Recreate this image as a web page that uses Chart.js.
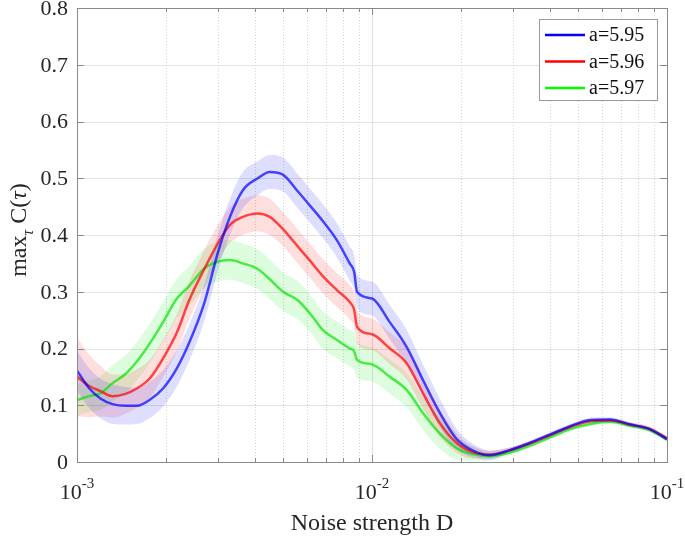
<!DOCTYPE html>
<html lang="en">
<head>
<meta charset="UTF-8">
<title>max C(tau) vs noise strength</title>
<script src="https://cdn.jsdelivr.net/npm/chart.js"></script>
<style>
  html, body { margin: 0; padding: 0; background: #fff; }
</style>
</head>
<body>
<canvas id="chart" width="685" height="536"></canvas>
<script>
// noise strength D (log axis)
var noise = [0.001, 0.0011, 0.0012, 0.00132, 0.00146, 0.0016, 0.00177, 0.00196, 0.00218, 0.0024,
             0.0027, 0.003, 0.0033, 0.00365, 0.0041, 0.0045, 0.005, 0.0056, 0.0062, 0.0068,
             0.0076, 0.0084, 0.0087, 0.0089, 0.01, 0.0115, 0.0131, 0.0149, 0.017, 0.0194,
             0.022, 0.025, 0.029, 0.034, 0.04, 0.047, 0.055, 0.064, 0.075, 0.0875, 0.1];

// mean of max_tau C(tau)
var mean595 = [0.161, 0.13, 0.112, 0.102, 0.099, 0.099, 0.11, 0.13, 0.165, 0.21,
               0.28, 0.368, 0.432, 0.479, 0.5, 0.511, 0.506, 0.477, 0.45, 0.425,
               0.391, 0.35, 0.335, 0.3, 0.288, 0.246, 0.203, 0.144, 0.086, 0.04,
               0.02, 0.012, 0.02, 0.033, 0.048, 0.063, 0.074, 0.075, 0.066, 0.058, 0.04];
var mean596 = [0.15, 0.134, 0.125, 0.116, 0.12, 0.13, 0.148, 0.183, 0.228, 0.285,
               0.34, 0.385, 0.418, 0.432, 0.438, 0.432, 0.41, 0.38, 0.353, 0.328,
               0.303, 0.282, 0.268, 0.238, 0.225, 0.2, 0.174, 0.121, 0.068, 0.033,
               0.017, 0.013, 0.02, 0.032, 0.047, 0.062, 0.072, 0.073, 0.066, 0.058, 0.042];
var mean597 = [0.109, 0.116, 0.121, 0.139, 0.155, 0.178, 0.21, 0.247, 0.288, 0.31,
               0.341, 0.353, 0.356, 0.35, 0.34, 0.322, 0.3, 0.285, 0.26, 0.233,
               0.215, 0.2, 0.195, 0.18, 0.172, 0.15, 0.127, 0.086, 0.05, 0.024,
               0.014, 0.01, 0.016, 0.028, 0.043, 0.058, 0.067, 0.071, 0.064, 0.056, 0.04];

// half width of the shaded band
var spread595 = [0.035, 0.035, 0.035, 0.035, 0.033, 0.032, 0.032, 0.032, 0.032, 0.032,
                 0.032, 0.032, 0.032, 0.032, 0.03, 0.03, 0.03, 0.03, 0.03, 0.03,
                 0.03, 0.03, 0.03, 0.03, 0.03, 0.03, 0.03, 0.028, 0.025, 0.018,
                 0.012, 0.008, 0.005, 0.004, 0.004, 0.004, 0.004, 0.004, 0.004, 0.004, 0.004];
var spread596 = [0.07, 0.055, 0.045, 0.038, 0.035, 0.034, 0.033, 0.033, 0.033, 0.033,
                 0.033, 0.033, 0.032, 0.032, 0.032, 0.032, 0.03, 0.03, 0.03, 0.03,
                 0.03, 0.03, 0.03, 0.03, 0.028, 0.028, 0.028, 0.027, 0.024, 0.017,
                 0.011, 0.007, 0.005, 0.004, 0.004, 0.004, 0.004, 0.004, 0.004, 0.004, 0.004];
var spread597 = [0.028, 0.028, 0.03, 0.032, 0.033, 0.034, 0.035, 0.035, 0.035, 0.035,
                 0.035, 0.035, 0.035, 0.035, 0.035, 0.035, 0.034, 0.034, 0.033, 0.033,
                 0.032, 0.032, 0.032, 0.032, 0.03, 0.03, 0.03, 0.03, 0.027, 0.02,
                 0.012, 0.008, 0.005, 0.004, 0.004, 0.004, 0.004, 0.004, 0.004, 0.004, 0.004];

var labels = ['a=5.95', 'a=5.96', 'a=5.97'];
var yTicks = [0, 0.1, 0.2, 0.3, 0.4, 0.5, 0.6, 0.7, 0.8];
var xDecades = [-3, -2, -1];

var serif = '"Liberation Serif", "Times New Roman", serif';

var series = [
    { label: labels[0], mean: mean595, spread: spread595, rgb: '0,0,255' },
    { label: labels[1], mean: mean596, spread: spread596, rgb: '255,0,0' },
    { label: labels[2], mean: mean597, spread: spread597, rgb: '0,230,0' }
];

function pts(values, spread, sign) {
    return values.map(function (v, i) {
        return { x: noise[i], y: v + sign * (spread ? spread[i] : 0) };
    });
}

var datasets = [];
series.forEach(function (s) {
    datasets.push({ data: pts(s.mean, s.spread, -1), borderWidth: 0, pointRadius: 0, fill: false, order: 2,
                    cubicInterpolationMode: 'monotone' });
    datasets.push({ data: pts(s.mean, s.spread, 1), borderWidth: 0, pointRadius: 0, order: 2,
                    cubicInterpolationMode: 'monotone',
                    fill: '-1', backgroundColor: 'rgba(' + s.rgb + ',0.13)' });
    datasets.push({ label: s.label, data: pts(s.mean, null, 0), borderColor: 'rgba(' + s.rgb + ',0.7)',
                    borderWidth: 2.5, pointRadius: 0, fill: false, cubicInterpolationMode: 'monotone', order: 0 });
});

// draws the matlab style box, grid, ticks, labels and legend
var matlabAxes = {
    id: 'matlabAxes',
    beforeDatasetsDraw: function (chart) {
        var ctx = chart.ctx, a = chart.chartArea, xs = chart.scales.x, ys = chart.scales.y;
        ctx.save();
        ctx.lineWidth = 1;
        ctx.strokeStyle = '#e4e4e4';
        yTicks.forEach(function (t) {
            var py = Math.round(ys.getPixelForValue(t)) + 0.5;
            ctx.beginPath(); ctx.moveTo(a.left, py); ctx.lineTo(a.right, py); ctx.stroke();
        });
        xDecades.forEach(function (d) {
            for (var m = 1; m <= 9; m++) {
                var v = m * Math.pow(10, d);
                if (v > 0.1 + 1e-9) break;
                var px = Math.round(xs.getPixelForValue(v)) + 0.5;
                if (m === 1) { ctx.setLineDash([]); ctx.strokeStyle = '#e0e0e0'; }
                else { ctx.setLineDash([1, 2]); ctx.strokeStyle = '#d4d4d4'; }
                ctx.beginPath(); ctx.moveTo(px, a.top); ctx.lineTo(px, a.bottom); ctx.stroke();
            }
        });
        ctx.restore();
    },
    afterDatasetsDraw: function (chart) {
        var ctx = chart.ctx, a = chart.chartArea, xs = chart.scales.x, ys = chart.scales.y;
        ctx.save();
        ctx.strokeStyle = '#8a8a8a';
        ctx.lineWidth = 1;
        ctx.strokeRect(Math.round(a.left) + 0.5, Math.round(a.top) + 0.5,
                       Math.round(a.right - a.left), Math.round(a.bottom - a.top));
        // x ticks, inward, bottom and top
        xDecades.forEach(function (d) {
            for (var m = 1; m <= 9; m++) {
                var v = m * Math.pow(10, d);
                if (v > 0.1 + 1e-9) break;
                var px = Math.round(xs.getPixelForValue(v)) + 0.5;
                var len = m === 1 ? 7 : 4;
                ctx.beginPath();
                ctx.moveTo(px, a.bottom); ctx.lineTo(px, a.bottom - len);
                ctx.moveTo(px, a.top); ctx.lineTo(px, a.top + len);
                ctx.stroke();
            }
        });
        // y ticks, inward, left and right
        yTicks.forEach(function (t) {
            var py = Math.round(ys.getPixelForValue(t)) + 0.5;
            ctx.beginPath();
            ctx.moveTo(a.left, py); ctx.lineTo(a.left + 7, py);
            ctx.moveTo(a.right, py); ctx.lineTo(a.right - 7, py);
            ctx.stroke();
        });

        ctx.fillStyle = '#262626';
        // y tick labels
        ctx.font = '22px ' + serif;
        ctx.textAlign = 'right';
        ctx.textBaseline = 'middle';
        yTicks.forEach(function (t) {
            ctx.fillText(String(t), a.left - 9, ys.getPixelForValue(t) + 1);
        });
        // x tick labels 10^n
        ctx.textAlign = 'left';
        ctx.textBaseline = 'alphabetic';
        xDecades.forEach(function (d) {
            var px = xs.getPixelForValue(Math.pow(10, d));
            ctx.font = '22px ' + serif;
            var w1 = ctx.measureText('10').width;
            ctx.font = '15px ' + serif;
            var w2 = ctx.measureText('-' + Math.abs(d)).width;
            var x0 = px - (w1 + w2) / 2;
            ctx.font = '22px ' + serif;
            ctx.fillText('10', x0, a.bottom + 37);
            ctx.font = '15px ' + serif;
            ctx.fillText('-' + Math.abs(d), x0 + w1, a.bottom + 26);
        });
        // x title
        ctx.font = '24px ' + serif;
        ctx.textAlign = 'center';
        ctx.fillText('Noise strength D', (a.left + a.right) / 2, 530);

        // y title: max_tau C(tau)
        ctx.translate(26, 230);
        ctx.rotate(-Math.PI / 2);
        ctx.textAlign = 'left';
        var big = '24px ' + serif, small = 'italic 16px ' + serif, tau = 'italic 24px ' + serif;
        ctx.font = big; var wMax = ctx.measureText('max').width;
        ctx.font = small; var wSub = ctx.measureText('\u03c4').width;
        ctx.font = big; var wC = ctx.measureText(' C(').width, wP = ctx.measureText(')').width;
        ctx.font = tau; var wT = ctx.measureText('\u03c4').width;
        var x = -(wMax + wSub + wC + wT + wP) / 2;
        ctx.font = big; ctx.fillText('max', x, 0); x += wMax;
        ctx.font = small; ctx.fillText('\u03c4', x, 7); x += wSub;
        ctx.font = big; ctx.fillText(' C(', x, 0); x += wC;
        ctx.font = tau; ctx.fillText('\u03c4', x, 0); x += wT;
        ctx.font = big; ctx.fillText(')', x, 0);
        ctx.restore();
    },
    afterDraw: function (chart) {
        var ctx = chart.ctx;
        ctx.save();
        var bx = 539.5, by = 19.5, bw = 118, bh = 81;
        ctx.fillStyle = '#fff';
        ctx.fillRect(bx, by, bw, bh);
        ctx.strokeStyle = '#9a9a9a';
        ctx.lineWidth = 1;
        ctx.strokeRect(bx, by, bw, bh);
        ctx.font = '20px ' + serif;
        ctx.textBaseline = 'middle';
        ctx.textAlign = 'left';
        series.forEach(function (s, i) {
            var cy = 35 + i * 26.5;
            ctx.strokeStyle = 'rgb(' + (i === 2 ? '0,255,0' : s.rgb) + ')';
            ctx.lineWidth = 2.5;
            ctx.beginPath(); ctx.moveTo(545, cy); ctx.lineTo(585, cy); ctx.stroke();
            ctx.fillStyle = '#111';
            ctx.fillText(s.label, 589, cy + 1);
        });
        ctx.restore();
    }
};

var chart = new Chart(document.getElementById('chart'), {
    type: 'line',
    data: { datasets: datasets },
    options: {
        responsive: false,
        animation: false,
        devicePixelRatio: 1,
        layout: { padding: { left: 77, right: 18, top: 8, bottom: 74 } },
        scales: {
            x: { type: 'logarithmic', min: 0.001, max: 0.1, display: false },
            y: { type: 'linear', min: 0, max: 0.8, display: false }
        },
        plugins: {
            legend: { display: false },
            tooltip: { enabled: false },
            filler: { propagate: false }
        }
    },
    plugins: [matlabAxes]
});
</script>
</body>
</html>
